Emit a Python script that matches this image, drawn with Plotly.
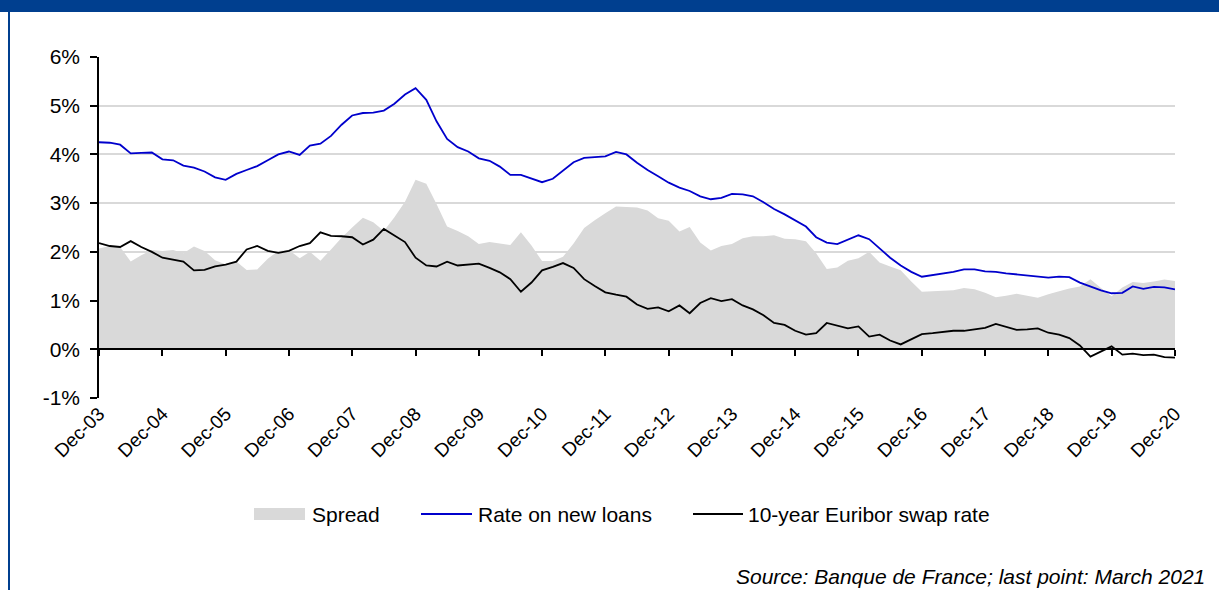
import numpy as np
import pandas as pd
import plotly.graph_objects as go

# Bimonthly observations, Dec-2003 to Dec-2020 (percent)
dates = pd.date_range("2003-12-01", periods=103, freq="2MS")

rate_new_loans = [
    4.25, 4.24, 4.20, 4.02, 4.03, 4.04,
    3.90, 3.88, 3.77, 3.73, 3.65, 3.53,
    3.48, 3.60, 3.68, 3.76, 3.88, 4.00,
    4.06, 3.99, 4.18, 4.22, 4.38, 4.61,
    4.80, 4.85, 4.86, 4.90, 5.04, 5.23,
    5.36, 5.12, 4.68, 4.32, 4.15, 4.06,
    3.92, 3.87, 3.75, 3.58, 3.58, 3.50,
    3.43, 3.50, 3.67, 3.84, 3.93, 3.95,
    3.96, 4.05, 4.00, 3.83, 3.68, 3.55,
    3.42, 3.32, 3.25, 3.14, 3.08, 3.11,
    3.19, 3.18, 3.14, 3.02, 2.88, 2.77,
    2.64, 2.52, 2.30, 2.19, 2.16, 2.25,
    2.34, 2.26, 2.08, 1.88, 1.72, 1.59,
    1.49, 1.52, 1.55, 1.59, 1.64, 1.64,
    1.60, 1.59, 1.56, 1.54, 1.51, 1.49,
    1.47, 1.49, 1.48, 1.37, 1.29, 1.21,
    1.15, 1.16, 1.29, 1.24, 1.28, 1.27,
    1.23,
]

swap_10y = [
    2.18, 2.12, 2.10, 2.22, 2.10, 2.00,
    1.88, 1.84, 1.80, 1.62, 1.63, 1.70,
    1.74, 1.80, 2.05, 2.12, 2.02, 1.98,
    2.02, 2.12, 2.18, 2.40, 2.33, 2.32,
    2.30, 2.15, 2.25, 2.47, 2.33, 2.20,
    1.88, 1.72, 1.70, 1.80, 1.72, 1.74,
    1.76, 1.67, 1.58, 1.44, 1.18, 1.37,
    1.62, 1.69, 1.77, 1.67, 1.44, 1.30,
    1.17, 1.12, 1.08, 0.92, 0.83, 0.86,
    0.78, 0.90, 0.74, 0.95, 1.05, 0.99,
    1.03, 0.90, 0.82, 0.70, 0.54, 0.50,
    0.38, 0.30, 0.33, 0.54, 0.48, 0.43,
    0.47, 0.26, 0.30, 0.18, 0.10, 0.20,
    0.31, 0.33, 0.35, 0.38, 0.38, 0.41,
    0.44, 0.52, 0.46, 0.40, 0.41, 0.43,
    0.34, 0.30, 0.23, 0.08, -0.15, -0.05,
    0.06, -0.11, -0.09, -0.12, -0.11, -0.16,
    -0.17,
]

spread = list(np.round(np.array(rate_new_loans) - np.array(swap_10y), 2))

tick_dates = pd.date_range("2003-12-01", "2020-12-01", freq="12MS")
tick_labels = ["Dec-%02d" % (d.year % 100) for d in tick_dates]

y_tickvals = [-1, 0, 1, 2, 3, 4, 5, 6]
y_ticktext = ["-1%", "0%", "1%", "2%", "3%", "4%", "5%", "6%"]

legend_names = ["Spread", "Rate on new loans", "10-year Euribor swap rate"]
source_note = "Source: Banque de France; last point: March 2021"

# Page geometry (pixels)
W, H = 1219, 590
L, R, T, B = 99, 44, 57, 192
PW, PH = W - L - R, H - T - B
FRAME = "#003F8F"
GREY = "#D9D9D9"
BLUE = "#0000CC"
FONT = "Liberation Sans, Arial, sans-serif"


def px(x):
    return (x - L) / PW


def py(y):
    return (H - B - y) / PH


fig = go.Figure()

fig.add_trace(go.Scatter(
    x=dates, y=spread, name=legend_names[0], mode="none",
    fill="tozeroy", fillcolor=GREY, showlegend=False, hoverinfo="skip",
))
fig.add_trace(go.Scatter(
    x=dates, y=rate_new_loans, name=legend_names[1], mode="lines",
    line=dict(color=BLUE, width=1.8), showlegend=False,
))
fig.add_trace(go.Scatter(
    x=dates, y=swap_10y, name=legend_names[2], mode="lines",
    line=dict(color="black", width=1.8), showlegend=False, xaxis="x2",
))

x_range = [tick_dates[0], tick_dates[-1]]

fig.update_layout(
    width=W, height=H,
    margin=dict(l=L, r=R, t=T, b=B),
    paper_bgcolor="white", plot_bgcolor="white",
    font=dict(family=FONT, size=20, color="black"),
    showlegend=False,
    xaxis=dict(
        type="date", range=x_range, tickvals=tick_dates, ticktext=tick_labels,
        tickangle=-45, tickfont=dict(size=19), showgrid=False, zeroline=False,
        showline=False, ticks="",
    ),
    xaxis2=dict(
        type="date", range=x_range, overlaying="x", anchor="free",
        position=1 / 7, side="bottom", tickvals=tick_dates,
        showticklabels=False, showgrid=False, zeroline=False,
        showline=True, linecolor="black", linewidth=1.5,
        ticks="outside", ticklen=6, tickwidth=1.5, tickcolor="black",
    ),
    yaxis=dict(
        range=[-1, 6], tickvals=y_tickvals, ticktext=y_ticktext,
        showgrid=True, gridcolor=GREY, gridwidth=1.5, zeroline=False,
        showline=True, linecolor="black", linewidth=1.5,
        ticks="outside", ticklen=7, tickwidth=1.5, tickcolor="black",
        ticklabelstandoff=6, tickfont=dict(size=21),
    ),
)

shapes = [
    # header band and frame
    dict(type="rect", xref="paper", yref="paper", x0=px(0), x1=px(W),
         y0=py(12), y1=py(0), fillcolor=FRAME, line=dict(width=0), layer="above"),
    dict(type="line", xref="paper", yref="paper", x0=px(9), x1=px(9),
         y0=py(12), y1=py(H), line=dict(color=FRAME, width=2)),
    # legend keys
    dict(type="rect", xref="paper", yref="paper", x0=px(254), x1=px(305),
         y0=py(520), y1=py(508), fillcolor=GREY, line=dict(width=0)),
    dict(type="line", xref="paper", yref="paper", x0=px(421), x1=px(472),
         y0=py(514), y1=py(514), line=dict(color=BLUE, width=1.8)),
    dict(type="line", xref="paper", yref="paper", x0=px(693), x1=px(743),
         y0=py(514), y1=py(514), line=dict(color="black", width=1.8)),
]

annotations = [
    dict(text=legend_names[0], x=px(310), y=py(514)),
    dict(text=legend_names[1], x=px(476), y=py(514)),
    dict(text=legend_names[2], x=px(746), y=py(514)),
]
annotations = [dict(a, xref="paper", yref="paper", xanchor="left", yanchor="middle",
                    showarrow=False, font=dict(size=21)) for a in annotations]
annotations.append(dict(
    text="<i>%s</i>" % source_note, xref="paper", yref="paper",
    x=px(1207), y=py(576), xanchor="right", yanchor="middle",
    showarrow=False, font=dict(size=21),
))

fig.update_layout(shapes=shapes, annotations=annotations)

fig.write_html("out.html")
